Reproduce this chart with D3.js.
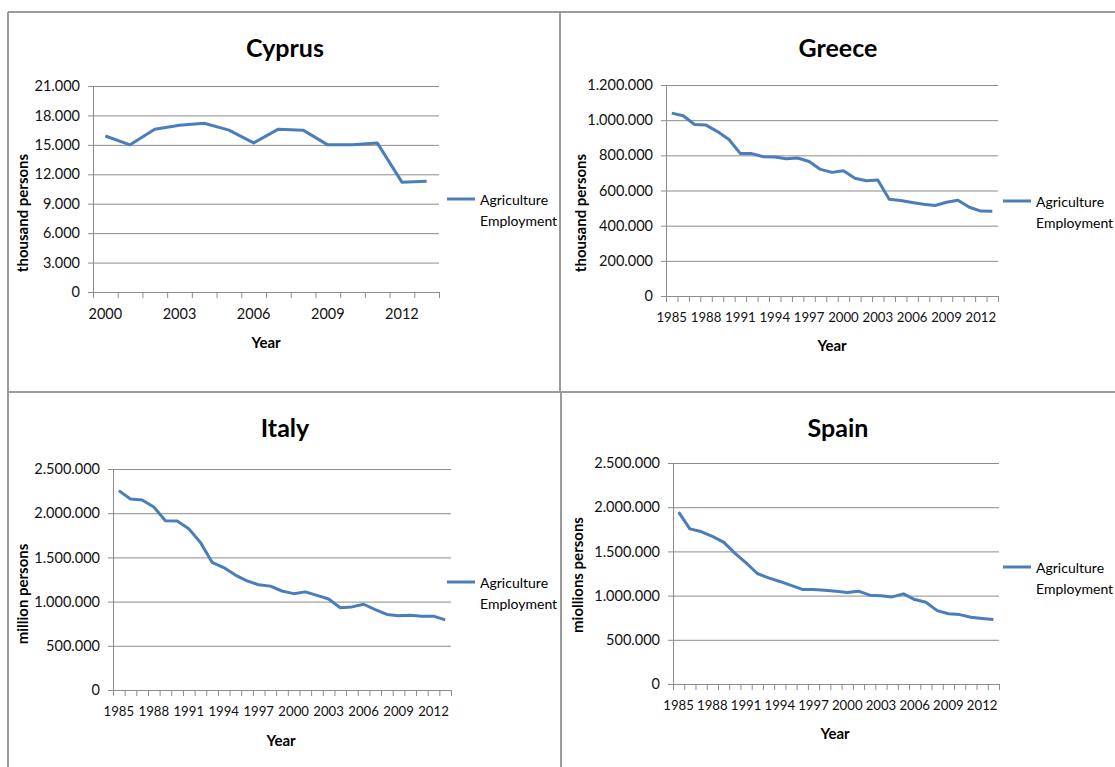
<!DOCTYPE html>
<html>
<head>
<meta charset="utf-8">
<script src="https://cdn.jsdelivr.net/npm/d3@7.9.0/dist/d3.min.js"></script>
<style>
  body { margin: 0; background: #fff; }
  svg { display: block; font-family: Lato, "Open Sans", sans-serif; }
  .grid line { stroke: #8c8c8c; stroke-width: 1; }
  .grid .domain { display: none; }
  .axis path, .axis line { stroke: #8c8c8c; }
  .axis text { font-family: Lato, "Open Sans", sans-serif; font-size: 14.5px; fill: #111; }
  .axis.dense text { font-size: 13.2px; }
</style>
</head>
<body>
<svg id="chart" width="1115" height="767"></svg>
<script>
// ---- data ----
const cyprusYears = d3.range(2000, 2014);
const cyprusValues = [15900, 15000, 16600, 17000, 17200, 16500, 15200, 16600, 16500, 15000, 15000, 15200, 11200, 11300];

const longYears = d3.range(1985, 2014);
const greeceValues = [1040000, 1025000, 975000, 972000, 935000, 890000, 810000, 810000, 792000, 790000,
  780000, 785000, 765000, 720000, 703000, 712000, 670000, 655000, 660000, 550000,
  543000, 532000, 522000, 515000, 533000, 545000, 505000, 483000, 482000];
const italyValues = [2255000, 2160000, 2150000, 2070000, 1915000, 1912000, 1825000, 1670000, 1445000, 1385000,
  1300000, 1235000, 1190000, 1175000, 1120000, 1090000, 1110000, 1070000, 1030000, 930000,
  940000, 970000, 910000, 855000, 840000, 845000, 835000, 835000, 793000];
const spainValues = [1945000, 1755000, 1725000, 1670000, 1605000, 1480000, 1370000, 1250000, 1200000, 1160000,
  1115000, 1070000, 1070000, 1060000, 1050000, 1035000, 1050000, 1005000, 998000, 985000,
  1020000, 955000, 925000, 830000, 795000, 785000, 755000, 742000, 730000];

const titles = ['Cyprus', 'Greece', 'Italy', 'Spain'];
const yTitles = ['thousand persons', 'thousand persons', 'million persons', 'miollions persons'];
const yMaxes = [21000, 1200000, 2500000, 2500000];
const yStepList = [3000, 200000, 500000, 500000];
const legendLines = ['Agriculture', 'Employment'];

// ---- layout per panel ----
const panels = [
  { years: cyprusYears, values: cyprusValues, x0: 93, x1: 439, y0: 86, y1: 292, titleX: 285, titleY: 47,
    ylabX: 22, ylabY: 213, yearX: 266, yearY: 342, legX: 447, legY: 199 },
  { years: longYears, values: greeceValues, x0: 666, x1: 998, y0: 85, y1: 296, titleX: 838, titleY: 47,
    ylabX: 580, ylabY: 213, yearX: 832, yearY: 345, legX: 1003, legY: 201 },
  { years: longYears, values: italyValues, x0: 113, x1: 451, y0: 469, y1: 690, titleX: 285, titleY: 427,
    ylabX: 22, ylabY: 594, yearX: 281, yearY: 740, legX: 447, legY: 582 },
  { years: longYears, values: spainValues, x0: 673, x1: 999, y0: 463, y1: 684, titleX: 838, titleY: 427,
    ylabX: 577, ylabY: 575, yearX: 835, yearY: 733, legX: 1003, legY: 567 },
];

const locale = d3.formatLocale({ decimal: ',', thousands: '.', grouping: [3], currency: ['', ''] });
const fmt = locale.format(',d');
const lineColor = '#4a7ebb';

const svg = d3.select('#chart');

// panel frame lines
const frame = svg.append('g').attr('stroke', '#9a9a9a').attr('stroke-width', 2);
frame.append('line').attr('x1', 8).attr('x2', 1115).attr('y1', 12).attr('y2', 12);
frame.append('line').attr('x1', 8).attr('x2', 8).attr('y1', 12).attr('y2', 767);
frame.append('line').attr('x1', 560).attr('x2', 560).attr('y1', 12).attr('y2', 392);
frame.append('line').attr('x1', 561).attr('x2', 561).attr('y1', 392).attr('y2', 767);
frame.append('line').attr('x1', 8).attr('x2', 1115).attr('y1', 392).attr('y2', 392);

panels.forEach((p, i) => {
  const g = svg.append('g');

  const x = d3.scaleBand().domain(p.years).range([p.x0, p.x1]).padding(0);
  const xTicks = d3.scaleLinear().domain([0, p.years.length]).range([p.x0, p.x1]);
  const y = d3.scaleLinear().domain([0, yMaxes[i]]).range([p.y1, p.y0]);
  const yTicks = d3.range(0, yMaxes[i] + 1, yStepList[i]);

  // gridlines
  g.append('g')
    .attr('class', 'grid')
    .attr('transform', `translate(${p.x0},0)`)
    .call(d3.axisLeft(y).tickValues(yTicks).tickFormat('').tickSize(-(p.x1 - p.x0)));

  // y axis
  g.append('g')
    .attr('class', 'axis')
    .attr('transform', `translate(${p.x0},0)`)
    .call(d3.axisLeft(y).tickValues(yTicks).tickFormat(fmt).tickSize(5).tickSizeOuter(0).tickPadding(8));

  // x axis tick marks between categories
  g.append('g')
    .attr('class', 'axis')
    .attr('transform', `translate(0,${p.y1})`)
    .call(d3.axisBottom(xTicks).tickValues(d3.range(0, p.years.length + 1)).tickFormat('').tickSize(6).tickSizeOuter(0));

  // x labels every 3 years, centered in bands
  const xLab = g.append('g')
    .attr('class', p.years.length > 20 ? 'axis dense' : 'axis')
    .attr('transform', `translate(0,${p.y1})`)
    .call(d3.axisBottom(x).tickValues(p.years.filter((d, k) => k % 3 === 0)).tickSize(0).tickPadding(17));
  xLab.select('.domain').remove();

  // series line
  const line = d3.line()
    .x((d, k) => x(p.years[k]) + x.bandwidth() / 2)
    .y(d => y(d));
  g.append('path')
    .datum(p.values)
    .attr('fill', 'none')
    .attr('stroke', lineColor)
    .attr('stroke-width', 3)
    .attr('stroke-linejoin', 'round')
    .attr('d', line);

  // title
  g.append('text')
    .attr('x', p.titleX).attr('y', p.titleY)
    .attr('text-anchor', 'middle').attr('dominant-baseline', 'central')
    .attr('font-size', 25).attr('font-weight', 'bold')
    .text(titles[i]);

  // y title
  g.append('text')
    .attr('transform', `translate(${p.ylabX},${p.ylabY}) rotate(-90)`)
    .attr('text-anchor', 'middle').attr('dominant-baseline', 'central')
    .attr('font-size', 15).attr('font-weight', 'bold')
    .text(yTitles[i]);

  // x title
  g.append('text')
    .attr('x', p.yearX).attr('y', p.yearY)
    .attr('text-anchor', 'middle').attr('dominant-baseline', 'central')
    .attr('font-size', 15).attr('font-weight', 'bold')
    .text('Year');

  // legend
  g.append('line')
    .attr('x1', p.legX).attr('x2', p.legX + 28)
    .attr('y1', p.legY).attr('y2', p.legY)
    .attr('stroke', lineColor).attr('stroke-width', 3);
  legendLines.forEach((t, k) => {
    g.append('text')
      .attr('x', p.legX + 33).attr('y', p.legY + k * 21)
      .attr('dominant-baseline', 'central')
      .attr('font-size', 14)
      .text(t);
  });
});
</script>
</body>
</html>
